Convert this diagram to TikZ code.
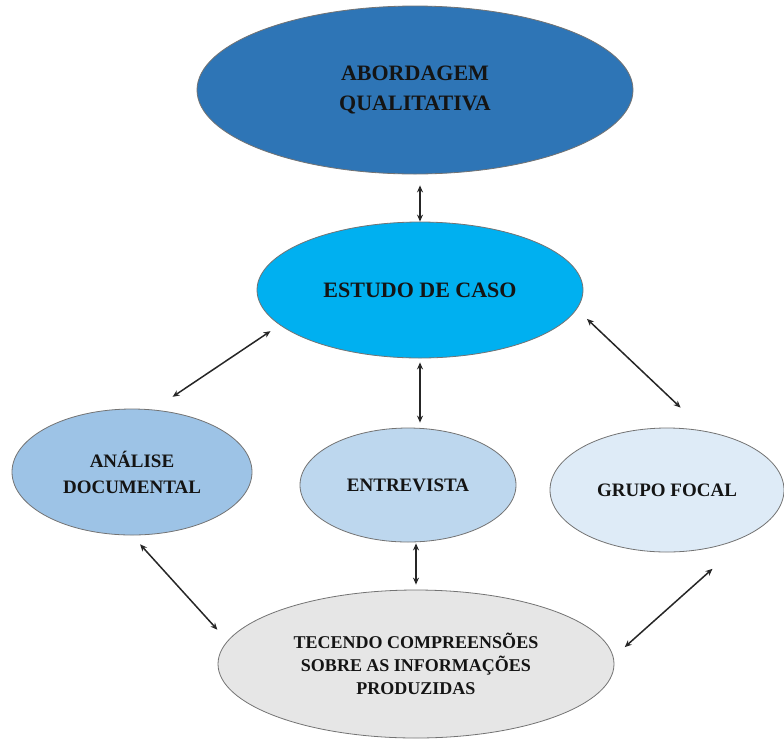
\documentclass[tikz,border=0pt]{standalone}
\usepackage{xcolor}
\usepackage{fontspec}
\setmainfont{Liberation Serif}
\usepackage{tikz}
\usetikzlibrary{calc,shapes.geometric,arrows.meta,positioning}
\definecolor{qualitativeColor}{RGB}{46, 117, 182}
\definecolor{caseColor}{RGB}{0, 176, 240}
\definecolor{documentColor}{RGB}{157, 195, 230}
\definecolor{interviewColor}{RGB}{189, 215, 238}
\definecolor{focalColor}{RGB}{222, 235, 247}
\definecolor{weaveColor}{RGB}{230, 230, 230}

\begin{document}
\begin{tikzpicture}[x=1pt, y=-1pt,
        bubble/.style={ellipse, draw=black!55, line width=0.8pt, inner sep=0pt, align=center, text=black!92},
        link/.style={{Stealth[length=7pt,width=6pt]}-{Stealth[length=7pt,width=6pt]}, line width=1.5pt, draw=black!85}]
            \useasboundingbox (0,0) rectangle (784,740);

            % Approach
            \node[bubble, fill=qualitativeColor, minimum width=436pt, minimum height=168pt,
                font=\fontsize{22}{30}\selectfont\bfseries] (abordagem) at (415,90) {ABORDAGEM\\QUALITATIVA};

            % Case study
            \node[bubble, fill=caseColor, minimum width=326pt, minimum height=136pt,
                font=\fontsize{22}{30}\selectfont\bfseries] (estudo) at (420,290) {ESTUDO DE CASO};

            % Instruments
            \node[bubble, fill=documentColor, minimum width=240pt, minimum height=126pt,
                font=\fontsize{19}{26}\selectfont\bfseries] (analise) at (132,472) {ANÁLISE\\DOCUMENTAL};
            \node[bubble, fill=interviewColor, minimum width=216pt, minimum height=114pt,
                font=\fontsize{19}{26}\selectfont\bfseries] (entrevista) at (408,485) {ENTREVISTA};
            \node[bubble, fill=focalColor, minimum width=234pt, minimum height=124pt,
                font=\fontsize{19}{26}\selectfont\bfseries] (grupo) at (667,490) {GRUPO FOCAL};

            % Results
            \node[bubble, fill=weaveColor, minimum width=396pt, minimum height=148pt,
                font=\fontsize{18}{23}\selectfont\bfseries] (tecendo) at (416,664)
                {TECENDO COMPREENSÕES\\SOBRE AS INFORMAÇÕES\\PRODUZIDAS};

            % Arrows
            \draw[link, shorten <=11pt] (estudo.north |- abordagem.south) -- (estudo.north);
            \draw[link, shorten <=4pt, shorten >=5pt] (estudo.south) -- (estudo.south |- entrevista.north);
            \draw[link, shorten <=1pt, shorten >=5pt] (entrevista.south -| tecendo.north) -- (tecendo.north);
            \draw[link, shorten <=11pt, shorten >=23pt] (estudo.194) -- (analise.71);
            \draw[link, shorten <=14pt, shorten >=34pt] (estudo.353) -- (grupo.57);
            \draw[link, shorten <=12pt, shorten >=15pt] (analise.south) -- (tecendo.173);
            \draw[link, shorten <=55pt, shorten >=15pt] (grupo.334) -- (tecendo.2);
        \end{tikzpicture}
\end{document}
